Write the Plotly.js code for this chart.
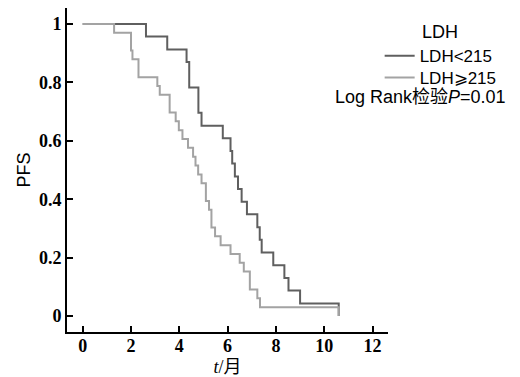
<!DOCTYPE html>
<html>
<head>
<meta charset="utf-8">
<script src="https://cdn.plot.ly/plotly-3.0.1.min.js"></script>
<style>html,body{margin:0;padding:0;background:#fff;}#chart{width:520px;height:377px;}</style>
</head>
<body>
<div id="chart"></div>
<script>
// Kaplan-Meier step data (time in months, PFS)
const lowTimes = [0, 2.62, 3.50, 4.30, 4.41, 4.79, 4.92, 5.80, 6.12, 6.19, 6.30, 6.43, 6.58, 6.80, 7.23, 7.33, 7.41, 7.89, 8.35, 8.52, 9.00, 10.6];
const lowPFS   = [1, 0.957, 0.913, 0.870, 0.783, 0.696, 0.652, 0.609, 0.565, 0.522, 0.478, 0.435, 0.391, 0.348, 0.304, 0.261, 0.217, 0.174, 0.130, 0.087, 0.043, 0];
const highTimes = [0, 1.30, 2.00, 2.06, 2.31, 3.09, 3.19, 3.60, 3.85, 3.98, 4.13, 4.36, 4.57, 4.67, 4.78, 4.92, 5.10, 5.23, 5.33, 5.48, 5.71, 6.12, 6.50, 6.67, 6.92, 7.23, 7.34, 10.6];
const highPFS   = [1, 0.970, 0.909, 0.879, 0.818, 0.788, 0.758, 0.697, 0.667, 0.636, 0.606, 0.576, 0.545, 0.515, 0.485, 0.455, 0.394, 0.364, 0.303, 0.273, 0.242, 0.212, 0.182, 0.152, 0.091, 0.061, 0.030, 0];
const seriesNames = ['LDH<215', 'LDH\u2a7e215'];
const xTicks = [0, 2, 4, 6, 8, 10, 12];
const xTickText = ['0', '2', '4', '6', '8', '10', '12'];
const yTicks = [0, 0.2, 0.4, 0.6, 0.8, 1];
const yTickText = ['0', '0.2', '0.4', '0.6', '0.8', '1'];

const sans = 'Liberation Sans, Arial, Noto Sans CJK SC, sans-serif';
const serif = 'Liberation Serif, Times New Roman, serif';
const bold = arr => arr.map(s => '<b>' + s + '</b>');

const traces = [
  {x: lowTimes, y: lowPFS, name: seriesNames[0], legend: 'legend', mode: 'lines', line: {shape: 'hv', color: '#5f5f5f', width: 2}},
  {x: highTimes, y: highPFS, name: seriesNames[1], legend: 'legend2', mode: 'lines', line: {shape: 'hv', color: '#a3a3a3', width: 2}}
];

const legendStyle = {x: 0.974, xanchor: 'left', yanchor: 'top', font: {family: sans, size: 17, color: '#000'},
                     itemwidth: 30, bgcolor: 'rgba(0,0,0,0)'};

const layout = {
  width: 520, height: 377,
  margin: {l: 67, r: 132, t: 8, b: 45},
  paper_bgcolor: '#fff', plot_bgcolor: '#fff',
  showlegend: true,
  legend: Object.assign({}, legendStyle, {y: 0.907}),
  legend2: Object.assign({}, legendStyle, {y: 0.8395}),
  xaxis: {
    range: [-0.65, 12.64], tickvals: xTicks, ticktext: bold(xTickText), ticks: 'inside', ticklen: 6, tickwidth: 2, tickcolor: '#000',
    ticklabelstandoff: -4,
    showline: true, linecolor: '#000', linewidth: 2, showgrid: false, zeroline: false,
    tickfont: {family: serif, size: 18, color: '#000'},
    title: {text: '<i>t</i>/月', font: {family: 'Liberation Serif, Noto Sans CJK SC, serif', size: 18, color: '#000'}, standoff: 6}
  },
  yaxis: {
    range: [-0.055, 1.055], tickvals: yTicks, ticktext: bold(yTickText), ticks: 'inside', ticklen: 6, tickwidth: 2, tickcolor: '#000',
    showline: true, linecolor: '#000', linewidth: 2, showgrid: false, zeroline: false,
    tickfont: {family: serif, size: 18, color: '#000'},
    title: {text: 'PFS', font: {family: sans, size: 18, color: '#000'}, standoff: 4}
  },
  annotations: [
    {xref: 'paper', yref: 'paper', x: 1.0997, y: 0.926, xanchor: 'left', yanchor: 'middle', showarrow: false,
     text: 'LDH', font: {family: sans, size: 18, color: '#000'}},
    {xref: 'paper', yref: 'paper', x: 1.374, y: 0.726, xanchor: 'right', yanchor: 'middle', showarrow: false,
     text: 'Log Rank检验<i>P</i>=0.01', font: {family: sans, size: 18, color: '#000'}}
  ]
};

Plotly.newPlot('chart', traces, layout, {displayModeBar: false, staticPlot: true});
</script>
</body>
</html>
